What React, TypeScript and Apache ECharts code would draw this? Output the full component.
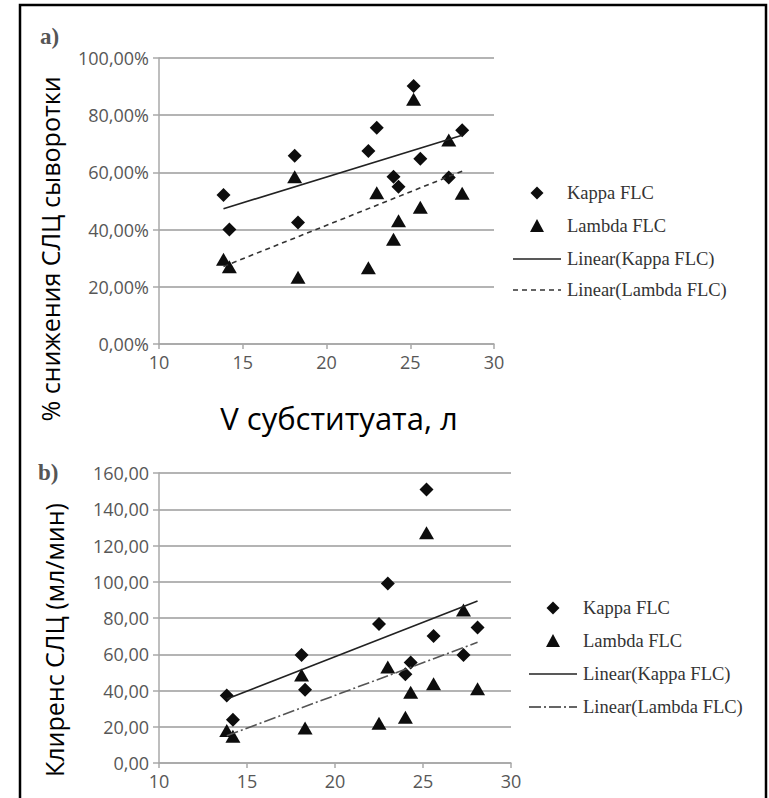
import React, { useEffect, useRef } from "react";
import * as echarts from "echarts";

// Substitute volume, L (shared by both panels)
const substituteVolume = [13.85, 14.2, 18.1, 18.3, 22.5, 23.0, 24.0, 24.3, 25.2, 25.6, 27.3, 28.1];
// Panel a: % reduction of serum FLC
const kappaReduction = [52.1, 40.0, 65.8, 42.5, 67.5, 75.6, 58.5, 55.0, 90.2, 64.8, 58.2, 74.7];
const lambdaReduction = [29.6, 27.0, 58.5, 23.3, 26.7, 52.9, 36.6, 43.1, 85.6, 47.8, 71.3, 52.7];
// Panel b: FLC clearance, ml/min
const kappaClearance = [37.2, 23.8, 59.6, 40.4, 76.7, 99.1, 49.0, 55.4, 150.9, 70.1, 59.6, 74.7];
const lambdaClearance = [18.0, 14.7, 48.6, 19.3, 22.0, 52.9, 25.3, 39.1, 127.0, 43.7, 84.4, 40.9];

const legendNames = ["Kappa FLC", "Lambda FLC", "Linear(Kappa FLC)", "Linear(Lambda FLC)"];

function pairs(xs: number[], ys: number[]) {
  return xs.map((x, i) => [x, ys[i]]);
}

function linearFit(xs: number[], ys: number[]) {
  const n = xs.length;
  const mx = xs.reduce((a, b) => a + b, 0) / n;
  const my = ys.reduce((a, b) => a + b, 0) / n;
  let sxy = 0;
  let sxx = 0;
  for (let i = 0; i < n; i++) {
    sxy += (xs[i] - mx) * (ys[i] - my);
    sxx += (xs[i] - mx) * (xs[i] - mx);
  }
  const k = sxy / sxx;
  const x0 = Math.min(...xs);
  const x1 = Math.max(...xs);
  return [
    [x0, my + k * (x0 - mx)],
    [x1, my + k * (x1 - mx)],
  ];
}

const AXIS_GRAY = "#a8a8a8";
const GRID_GRAY = "#b4b4b4";
const TICK_FONT = { fontFamily: "Open Sans", fontSize: 18, color: "#575757" };
const DASH_A = [5, 4];
const DASH_B = [12, 3, 2, 3];

function xAxisCfg(gridIndex: number) {
  return {
    type: "value",
    gridIndex,
    min: 10,
    max: 30,
    interval: 5,
    axisLine: { show: true, lineStyle: { color: AXIS_GRAY, width: 1.5 } },
    axisTick: { show: true, length: 5, lineStyle: { color: AXIS_GRAY, width: 1.5 } },
    splitLine: { show: false },
    axisLabel: { margin: 9, ...TICK_FONT },
  };
}

function yAxisCfg(gridIndex: number, max: number, interval: number, pct: boolean) {
  return {
    type: "value",
    gridIndex,
    min: 0,
    max,
    interval,
    axisLine: { show: true, lineStyle: { color: AXIS_GRAY, width: 1.5 } },
    axisTick: { show: true, length: 6, lineStyle: { color: AXIS_GRAY, width: 1.5 } },
    splitLine: { show: true, lineStyle: { color: GRID_GRAY, width: 2 } },
    axisLabel: {
      margin: 10,
      ...TICK_FONT,
      formatter: (v: number) => v.toFixed(2).replace(".", ",") + (pct ? "%" : ""),
    },
  };
}

function scatter(name: string, idx: number, symbol: string, size: any, xs: number[], ys: number[]) {
  return {
    name,
    type: "scatter",
    xAxisIndex: idx,
    yAxisIndex: idx,
    symbol,
    symbolSize: size,
    itemStyle: { color: "#0d0d0d", opacity: 1 },
    data: pairs(xs, ys),
    z: 3,
  };
}

function trend(name: string, idx: number, xs: number[], ys: number[], type: any, color: string) {
  return {
    name,
    type: "line",
    xAxisIndex: idx,
    yAxisIndex: idx,
    symbol: "none",
    itemStyle: { color },
    lineStyle: { color, width: 1.6, type },
    data: linearFit(xs, ys),
    z: 4,
  };
}

const LEGEND_FONT = "18.5px 'Liberation Serif'";

function legendGraphics(
  symX: number,
  lineX0: number,
  lineX1: number,
  textX: number,
  ys: number[],
  lambdaDash: number[],
  lambdaColor: string
) {
  const [y0, y1, y2, y3] = ys;
  const items: any[] = [
    {
      type: "polygon",
      shape: {
        points: [
          [symX, y0 - 6.5],
          [symX + 6.5, y0],
          [symX, y0 + 6.5],
          [symX - 6.5, y0],
        ],
      },
      style: { fill: "#0d0d0d" },
    },
    {
      type: "polygon",
      shape: {
        points: [
          [symX, y1 - 7],
          [symX + 7, y1 + 6],
          [symX - 7, y1 + 6],
        ],
      },
      style: { fill: "#0d0d0d" },
    },
    {
      type: "line",
      shape: { x1: lineX0, y1: y2, x2: lineX1, y2: y2 },
      style: { stroke: "#222", lineWidth: 1.6 },
    },
    {
      type: "line",
      shape: { x1: lineX0, y1: y3, x2: lineX1, y2: y3 },
      style: { stroke: lambdaColor, lineWidth: 1.6, lineDash: lambdaDash },
    },
  ];
  legendNames.forEach((name, i) => {
    items.push({
      type: "text",
      x: textX,
      y: ys[i],
      style: { text: name, font: LEGEND_FONT, fill: "#333", verticalAlign: "middle" },
    });
  });
  return items;
}

export default function App() {
  const ref = useRef<HTMLDivElement>(null);
  useEffect(() => {
    if (!ref.current) return;
    const chart = echarts.init(ref.current, undefined, { renderer: "svg" });
    const option: any = {
      animation: false,
      backgroundColor: "#ffffff",
      grid: [
        { left: 159, top: 58, width: 335, height: 286 },
        { left: 159, top: 473, width: 352, height: 290 },
      ],
      xAxis: [xAxisCfg(0), xAxisCfg(1)],
      yAxis: [yAxisCfg(0, 100, 20, true), yAxisCfg(1, 160, 20, false)],
      series: [
        scatter(legendNames[0], 0, "diamond", 14, substituteVolume, kappaReduction),
        scatter(legendNames[1], 0, "triangle", [15, 13], substituteVolume, lambdaReduction),
        trend(legendNames[2], 0, substituteVolume, kappaReduction, "solid", "#222222"),
        trend(legendNames[3], 0, substituteVolume, lambdaReduction, DASH_A, "#333333"),
        scatter(legendNames[0], 1, "diamond", 14, substituteVolume, kappaClearance),
        scatter(legendNames[1], 1, "triangle", [15, 13], substituteVolume, lambdaClearance),
        trend(legendNames[2], 1, substituteVolume, kappaClearance, "solid", "#222222"),
        trend(legendNames[3], 1, substituteVolume, lambdaClearance, DASH_B, "#555555"),
      ],
      graphic: [
        {
          type: "rect",
          shape: { x: 20, y: 5, width: 746, height: 810 },
          style: { fill: "none", stroke: "#000", lineWidth: 2.5 },
          silent: true,
        },
        {
          type: "text",
          x: 40,
          y: 36,
          style: {
            text: "a)",
            font: "bold 23px 'Liberation Serif'",
            fill: "#555",
            verticalAlign: "middle",
          },
        },
        {
          type: "text",
          x: 38,
          y: 472,
          style: {
            text: "b)",
            font: "bold 23px 'Liberation Serif'",
            fill: "#555",
            verticalAlign: "middle",
          },
        },
        {
          type: "text",
          x: 50,
          y: 249,
          rotation: Math.PI / 2,
          style: {
            text: "% снижения СЛЦ сыворотки",
            font: "25px 'Open Sans'",
            fill: "#000",
            align: "center",
            verticalAlign: "middle",
          },
        },
        {
          type: "text",
          x: 54,
          y: 640,
          rotation: Math.PI / 2,
          style: {
            text: "Клиренс СЛЦ (мл/мин)",
            font: "25px 'Open Sans'",
            fill: "#000",
            align: "center",
            verticalAlign: "middle",
          },
        },
        {
          type: "text",
          x: 339,
          y: 418,
          style: {
            text: "V субституата, л",
            font: "31px 'Open Sans'",
            fill: "#000",
            align: "center",
            verticalAlign: "middle",
          },
        },
        ...legendGraphics(537, 513, 561, 567, [193, 226, 259, 290], DASH_A, "#333"),
        ...legendGraphics(553, 529, 577, 583, [608, 641, 674, 707], DASH_B, "#333"),
      ],
    };
    chart.setOption(option);
    return () => chart.dispose();
  }, []);
  return (
    <div
      ref={ref}
      style={{ position: "fixed", left: 0, top: 0, width: 769, height: 798, background: "#fff" }}
    />
  );
}
